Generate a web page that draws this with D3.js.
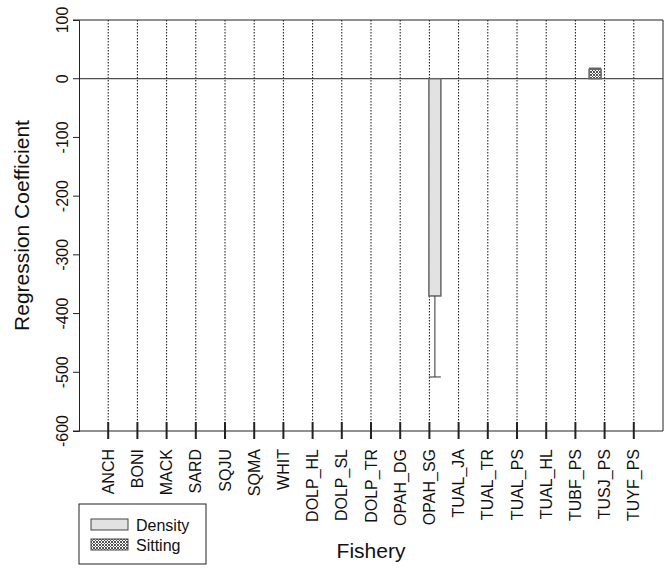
<!DOCTYPE html>
<html>
<head>
<meta charset="utf-8">
<script src="https://cdn.jsdelivr.net/npm/d3@7"></script>
<style>
    body { margin: 0; background: #fff; }
    text { font-family: "Liberation Sans", Arial, sans-serif; fill: #111; }
</style>
</head>
<body>
<script>
const fisheries = ["ANCH", "BONI", "MACK", "SARD", "SQJU", "SQMA", "WHIT", "DOLP_HL", "DOLP_SL",
    "DOLP_TR", "OPAH_DG", "OPAH_SG", "TUAL_JA", "TUAL_TR", "TUAL_PS", "TUAL_HL", "TUBF_PS",
    "TUSJ_PS", "TUYF_PS"];
const seriesNames = ["Sitting", "Density"];
// only non-zero coefficients are drawn
const densityValues = [{ fishery: "OPAH_SG", value: -370, low: -508 }];
const sittingValues = [{ fishery: "TUSJ_PS", value: 16, low: 16, high: 18 }];
const yTicks = [100, 0, -100, -200, -300, -400, -500, -600];

const width = 665;
const height = 568;
const margin = { top: 20, right: 2, bottom: 137, left: 79 };

const x = d3.scaleLinear().domain([0, fisheries.length + 1]).range([margin.left, width - margin.right]);
const xPos = (f) => x(fisheries.indexOf(f) + 1);
const sub = d3.scaleBand().domain(seriesNames).range([-15.5, 11.5]).paddingInner(0.2);
const y = d3.scaleLinear().domain([-600, 100]).range([height - margin.bottom, margin.top]);

const svg = d3.select("body").append("svg")
    .attr("width", width)
    .attr("height", height);

const defs = svg.append("defs");
const pat = defs.append("pattern")
    .attr("id", "hatch")
    .attr("patternUnits", "userSpaceOnUse")
    .attr("width", 3)
    .attr("height", 3);
pat.append("rect").attr("width", 3).attr("height", 3).attr("fill", "#fff");
pat.append("path").attr("d", "M0,0L3,3M3,0L0,3").attr("stroke", "#555").attr("stroke-width", 1);

// dotted guides at each fishery
svg.append("g")
    .selectAll("line")
    .data(fisheries)
    .enter().append("line")
    .attr("x1", (d, i) => x(i + 1))
    .attr("x2", (d, i) => x(i + 1))
    .attr("y1", y(100))
    .attr("y2", y(-600) - 9)
    .attr("stroke", "#111")
    .attr("stroke-dasharray", "1.5,1.5");

// y axis
const yAxis = d3.axisLeft(y).tickValues(yTicks).tickSize(6).tickFormat((d) => String(d));
const gy = svg.append("g")
    .attr("transform", "translate(" + margin.left + ",0)")
    .call(yAxis);
gy.select(".domain").attr("stroke", "#222");
gy.selectAll(".tick line").attr("stroke", "#222");
gy.selectAll(".tick text")
    .attr("font-size", 16)
    .attr("text-anchor", "middle")
    .attr("dy", 0)
    .attr("transform", "rotate(-90)")
    .attr("x", (d) => -y(d))
    .attr("y", -11);
gy.selectAll(".tick").attr("transform", null);
gy.selectAll(".tick line").attr("y1", (d) => y(d)).attr("y2", (d) => y(d));

// frame and zero line
svg.append("line")
    .attr("x1", x.range()[0]).attr("x2", x.range()[1])
    .attr("y1", y(0)).attr("y2", y(0))
    .attr("stroke", "#222");
svg.append("path")
    .attr("d", "M" + x.range()[0] + "," + y(100) + "H" + x.range()[1] + "V" + y(-600) + "H" + x.range()[0])
    .attr("fill", "none")
    .attr("stroke", "#222");

// x axis
const gx = svg.append("g")
    .attr("transform", "translate(0," + y(-600) + ")");
gx.selectAll("line")
    .data(fisheries)
    .enter().append("line")
    .attr("x1", (d, i) => x(i + 1))
    .attr("x2", (d, i) => x(i + 1))
    .attr("y1", -9)
    .attr("y2", 8)
    .attr("stroke", "#222")
    .attr("stroke-width", 2);
gx.selectAll("text")
    .data(fisheries)
    .enter().append("text")
    .attr("transform", (d, i) => "translate(" + x(i + 1) + ",18) rotate(-90)")
    .attr("text-anchor", "end")
    .attr("dy", "0.35em")
    .attr("font-size", 16)
    .text((d) => d);

// bars
svg.append("g")
    .selectAll("rect")
    .data(densityValues)
    .enter().append("rect")
    .attr("x", (d) => xPos(d.fishery) + sub("Density"))
    .attr("width", sub.bandwidth())
    .attr("y", y(0))
    .attr("height", (d) => y(d.value) - y(0))
    .attr("fill", "#e2e2e2")
    .attr("stroke", "#666")
    .attr("stroke-width", 1.5);

svg.append("g")
    .selectAll("rect")
    .data(sittingValues)
    .enter().append("rect")
    .attr("x", (d) => xPos(d.fishery) + sub("Sitting"))
    .attr("width", sub.bandwidth())
    .attr("y", (d) => y(d.value))
    .attr("height", (d) => y(0) - y(d.value))
    .attr("fill", "url(#hatch)")
    .attr("stroke", "#666")
    .attr("stroke-width", 1.5);

// error bars
const err = svg.append("g").attr("stroke", "#333");
densityValues.forEach((d) => {
    const cx = xPos(d.fishery) + sub("Density") + sub.bandwidth() / 2;
    err.append("line").attr("x1", cx).attr("x2", cx).attr("y1", y(d.value)).attr("y2", y(d.low));
    err.append("line").attr("x1", cx - 6).attr("x2", cx + 6).attr("y1", y(d.low)).attr("y2", y(d.low));
});
sittingValues.forEach((d) => {
    const cx = xPos(d.fishery) + sub("Sitting") + sub.bandwidth() / 2;
    err.append("line").attr("x1", cx - 6).attr("x2", cx + 6).attr("y1", y(d.high)).attr("y2", y(d.high));
});

// titles
svg.append("text")
    .attr("transform", "translate(29," + (y(100) + y(-600)) / 2 + ") rotate(-90)")
    .attr("text-anchor", "middle")
    .attr("font-size", 21)
    .text("Regression Coefficient");
svg.append("text")
    .attr("x", (x.range()[0] + x.range()[1]) / 2)
    .attr("y", 558)
    .attr("text-anchor", "middle")
    .attr("font-size", 21)
    .text("Fishery");

// legend
const legend = svg.append("g").attr("transform", "translate(79,504)");
legend.append("rect")
    .attr("width", 127).attr("height", 60)
    .attr("fill", "#fff").attr("stroke", "#222");
const items = [{ name: "Density", fill: "#e2e2e2" }, { name: "Sitting", fill: "url(#hatch)" }];
const li = legend.selectAll("g.item")
    .data(items)
    .enter().append("g")
    .attr("class", "item")
    .attr("transform", (d, i) => "translate(12," + (15 + i * 20) + ")");
li.append("rect")
    .attr("width", 37).attr("height", 11)
    .attr("fill", (d) => d.fill)
    .attr("stroke", "#444");
li.append("text")
    .attr("x", 45).attr("y", 11.5)
    .attr("font-size", 16)
    .text((d) => d.name);
</script>
</body>
</html>
